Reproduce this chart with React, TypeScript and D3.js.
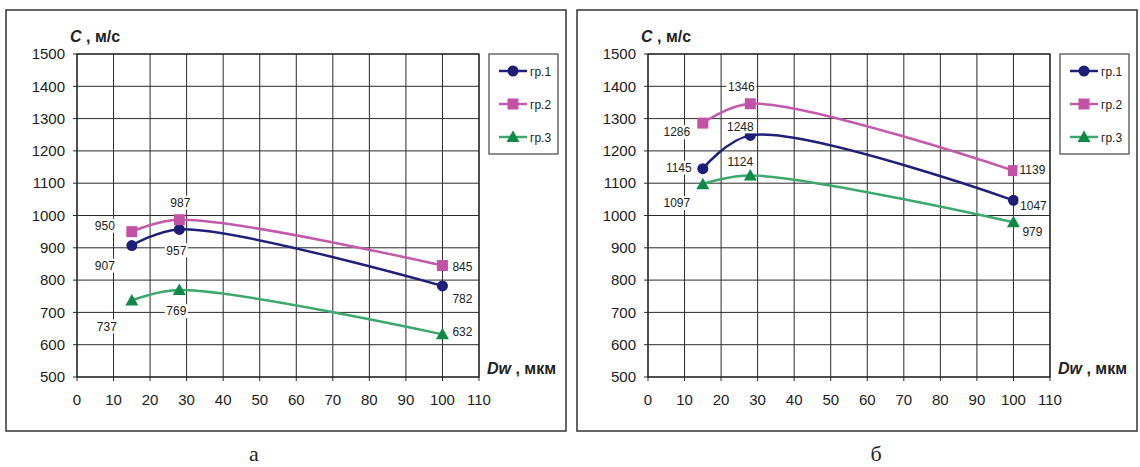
import React from 'react';
import * as d3 from 'd3';

// x values (Dw, мкм) shared by every series
const dw = [15, 28, 100];
const seriesNames = ['гр.1', 'гр.2', 'гр.3'];

// panel "а"
const aGr1 = [907, 957, 782];
const aGr2 = [950, 987, 845];
const aGr3 = [737, 769, 632];

// panel "б"
const bGr1 = [1145, 1248, 1047];
const bGr2 = [1286, 1346, 1139];
const bGr3 = [1097, 1124, 979];

const xTicks = [0, 10, 20, 30, 40, 50, 60, 70, 80, 90, 100, 110];
const yTicks = [500, 600, 700, 800, 900, 1000, 1100, 1200, 1300, 1400, 1500];

const lineColors = ['#20207a', '#c359aa', '#3da86c'];
const markColors = ['#1e1e78', '#c352a6', '#108a46'];

// label placement (dx, dy from the marker) - layout only
const labelOffA = [
  [[-27, 20], [-3, 21], [20, 13]],
  [[-27, -6], [1, -17], [20, 1]],
  [[-25, 26], [-3, 21], [20, -3]],
];
const labelOffB = [
  [[-24, -1], [-10, -9], [20, 5]],
  [[-26, 9], [-9, -17], [19, -1]],
  [[-26, 19], [-10, -14], [19, 10]],
];

const FONT = 'Liberation Sans, Arial, sans-serif';

function Marker({ kind, x, y, color }) {
  if (kind === 0) return <circle cx={x} cy={y} r={5.5} fill={color} />;
  if (kind === 1) return <rect x={x - 5.5} y={y - 5.5} width={11} height={11} fill={color} />;
  return <path d={`M${x},${y - 6.5}L${x + 6.5},${y + 5}L${x - 6.5},${y + 5}Z`} fill={color} />;
}

function Panel({ left, series, offsets, caption, captionX }) {
  const frame = { x: left, y: 10, w: 560, h: 421 };
  const plotL = left + 71;
  const plotR = plotL + 402;
  const plotT = 54;
  const plotB = 377;

  const x = d3.scaleLinear().domain([0, 110]).range([plotL, plotR]);
  const y = d3.scaleLinear().domain([500, 1500]).range([plotB, plotT]);
  const line = d3.line<number>()
    .x((d, i) => x(dw[i]))
    .y(d => y(d))
    .curve(d3.curveCatmullRom.alpha(0.5));

  const legX = plotR + 10;
  const legY = 54;

  return (
    <g>
      <rect x={frame.x} y={frame.y} width={frame.w} height={frame.h} fill="#fff" stroke="#333" strokeWidth={1.5} />
      {/* grid */}
      {xTicks.map(t => (
        <line key={'gx' + t} x1={x(t)} x2={x(t)} y1={plotT} y2={plotB + 4} stroke="#2a2a2a" strokeWidth={1} />
      ))}
      {yTicks.map(t => (
        <line key={'gy' + t} x1={plotL - 4} x2={plotR} y1={y(t)} y2={y(t)} stroke="#2a2a2a" strokeWidth={1} />
      ))}
      <rect x={plotL} y={plotT} width={plotR - plotL} height={plotB - plotT} fill="none" stroke="#222" strokeWidth={1.2} />
      {/* tick labels */}
      {yTicks.map(t => (
        <text key={'ty' + t} x={plotL - 12} y={y(t)} dy="0.35em" textAnchor="end" fontFamily={FONT} fontSize={15} fill="#222">{t}</text>
      ))}
      {xTicks.map(t => (
        <text key={'tx' + t} x={x(t)} y={plotB + 28} textAnchor="middle" fontFamily={FONT} fontSize={15} fill="#222">{t}</text>
      ))}
      {/* axis titles */}
      <text x={left + 64} y={42} fontFamily={FONT} fontSize={16} fontWeight="bold" fill="#222">
        <tspan fontStyle="italic">C</tspan> , м/с
      </text>
      <text x={plotR + 8} y={374} fontFamily={FONT} fontSize={16} fontWeight="bold" fill="#222">
        <tspan fontStyle="italic">Dw</tspan> , мкм
      </text>
      {/* series */}
      {series.map((vals, si) => (
        <path key={'l' + si} d={line(vals) || ''} fill="none" stroke={lineColors[si]} strokeWidth={2.5} />
      ))}
      {series.map((vals, si) => vals.map((v, i) => (
        <Marker key={'m' + si + i} kind={si} x={x(dw[i])} y={y(v)} color={markColors[si]} />
      )))}
      {series.map((vals, si) => vals.map((v, i) => {
        const [dx, dy] = offsets[si][i];
        const cx = x(dw[i]) + dx;
        const cy = y(v) + dy;
        const w = String(v).length * 7 + 2;
        return (
          <g key={'t' + si + i}>
            <rect x={cx - w / 2} y={cy - 7} width={w} height={14} fill="#fff" />
            <text x={cx} y={cy} dy="0.35em" textAnchor="middle" fontFamily={FONT} fontSize={12} fill="#222">{v}</text>
          </g>
        );
      }))}
      {/* legend */}
      <rect x={legX} y={legY} width={69} height={100} fill="#fff" stroke="#444" strokeWidth={1.2} />
      {seriesNames.map((n, si) => {
        const ly = legY + 17 + si * 33;
        return (
          <g key={'lg' + si}>
            <line x1={legX + 10} x2={legX + 38} y1={ly} y2={ly} stroke={lineColors[si]} strokeWidth={2.5} />
            <Marker kind={si} x={legX + 24} y={ly} color={markColors[si]} />
            <text x={legX + 41} y={ly} dy="0.38em" fontFamily={FONT} fontSize={12} fill="#222">{n}</text>
          </g>
        );
      })}
      <text x={captionX} y={461} textAnchor="middle" fontFamily="Liberation Serif, Times New Roman, serif" fontSize={22} fill="#222">{caption}</text>
    </g>
  );
}

export default function App() {
  return (
    <svg width={1140} height={467} style={{ display: 'block', position: 'absolute', left: 0, top: 0, background: '#fff' }}>
      <Panel left={6} series={[aGr1, aGr2, aGr3]} offsets={labelOffA} caption="а" captionX={254} />
      <Panel left={577} series={[bGr1, bGr2, bGr3]} offsets={labelOffB} caption="б" captionX={876} />
    </svg>
  );
}
